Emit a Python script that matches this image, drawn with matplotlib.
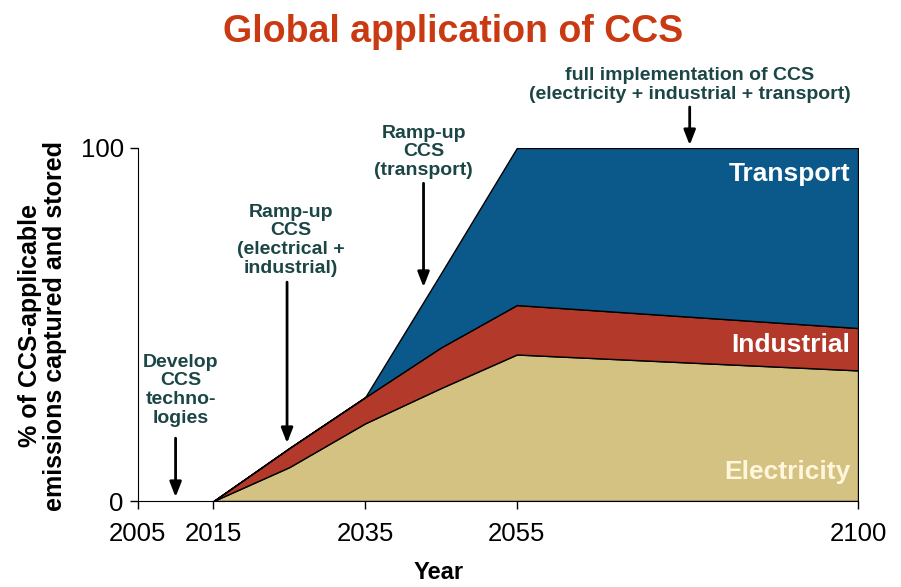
import matplotlib
matplotlib.use('Agg')
import matplotlib.pyplot as plt

plt.rcParams['font.family'] = ['Liberation Sans', 'DejaVu Sans']

# data
years = [2015, 2025, 2035, 2045, 2055, 2100]
electricity = [0, 9.6, 22.0, 32.0, 41.5, 37.0]
industrial = [0, 5.4, 7.4, 11.5, 14.0, 12.0]
transport = [0, 0, 0, 21.0, 44.5, 51.0]
tick_years = [2005, 2015, 2035, 2055, 2100]

c_elec = '#D4C282'
c_ind = '#B3392A'
c_trans = '#0B588A'
c_note = '#1C4646'
c_title = '#C93A12'

fig = plt.figure(figsize=(9.01, 5.87), dpi=100)
ax = fig.add_axes([0.1528, 0.1465, 0.7995, 0.6014])

ax.stackplot(years, electricity, industrial, transport,
             colors=[c_elec, c_ind, c_trans],
             edgecolor='black', linewidth=1.0)

ax.set_xlim(2005, 2100)
ax.set_ylim(0, 100)
ax.set_xticks(tick_years)
ax.set_yticks([0, 100])
ax.tick_params(axis='both', direction='out', length=6, width=1,
               labelsize=18.5, colors='black')
ax.tick_params(axis='x', pad=9)
ax.tick_params(axis='y', pad=4)
for s in ['top', 'right']:
    ax.spines[s].set_visible(False)

ax.text(0.418, -0.203, 'Year', transform=ax.transAxes, ha='center',
        va='center', fontsize=17, fontweight='bold')
ax.text(-0.132, 0.496, '% of CCS-applicable\nemissions captured and stored',
        transform=ax.transAxes, rotation=90, ha='center', va='center',
        ma='center', fontsize=18, fontweight='bold', linespacing=1.05)

fig.text(0.503, 0.946, 'Global application of CCS', ha='center', va='center',
         fontsize=27, fontweight='bold', color=c_title)

# band labels
ax.text(2099, 92.5, 'Transport', ha='right', va='center', fontsize=19,
        fontweight='bold', color='white')
ax.text(2099, 44.2, 'Industrial', ha='right', va='center', fontsize=19,
        fontweight='bold', color='white')
ax.text(2099, 8.2, 'Electricity', ha='right', va='center', fontsize=19,
        fontweight='bold', color='#FFF6DC')

# notes with arrows
notes = [
    ('Develop\nCCS\ntechno-\nlogies', 2010.7, 31.4, 17.8, 1.1),
    ('Ramp-up\nCCS\n(electrical +\nindustrial)', 2025.2, 73.9, 62.0, 16.4),
    ('Ramp-up\nCCS\n(transport)', 2042.7, 98.9, 90.0, 60.6),
    ('full implementation of CCS\n(electricity + industrial + transport)',
     2077.8, 117.8, 111.6, 100.8),
]
arrow_x = [2010.0, 2024.7, 2042.7, 2077.8]
for (txt, tx, ty, y0, y1), ax_x in zip(notes, arrow_x):
    ax.text(tx, ty, txt, ha='center', va='center', ma='center', fontsize=14,
            fontweight='bold', color=c_note, linespacing=1.13, clip_on=False)
    ax.annotate('', xy=(ax_x, y1), xytext=(ax_x, y0),
                arrowprops=dict(arrowstyle='-|>,head_length=0.9,head_width=0.35',
                                lw=2, color='black', shrinkA=0, shrinkB=0),
                annotation_clip=False)

fig.savefig('out.png', dpi=100)
